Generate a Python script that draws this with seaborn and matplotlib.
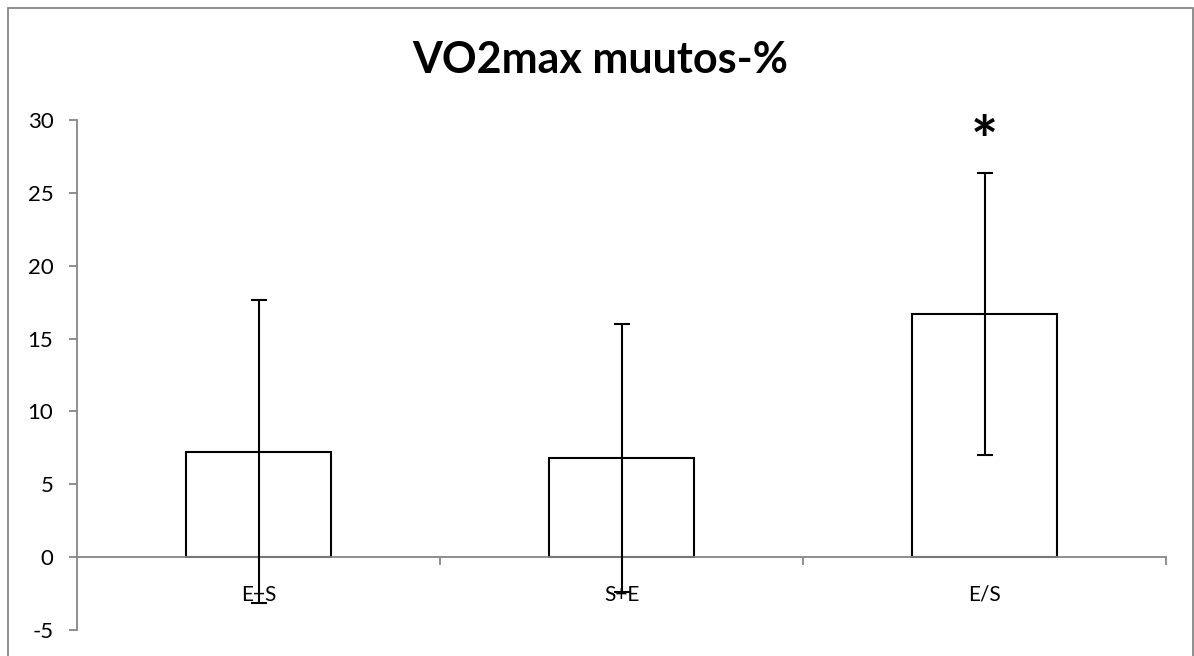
import numpy as np
import matplotlib
matplotlib.use("Agg")
import matplotlib.pyplot as plt
import pandas as pd
import seaborn as sns
from matplotlib.patches import Rectangle

# Data
groups = ["E+S", "S+E", "E/S"]
change_pct = [7.22, 6.80, 16.70]
sd_pct = [10.40, 9.17, 9.66]
y_ticks = [-5, 0, 5, 10, 15, 20, 25, 30]

df = pd.DataFrame({"group": groups, "change": change_pct, "sd": sd_pct})

sns.set_style("white")
plt.rcParams["font.family"] = ["Lato", "DejaVu Sans"]
plt.rcParams["text.color"] = "black"

gray = "#868686"

fig = plt.figure(figsize=(11.94, 6.56), dpi=100)
ax = fig.add_axes([77 / 1194, 1 - 630 / 656, (1166 - 77) / 1194, 510 / 656])

sns.barplot(data=df, x="group", y="change", order=groups, color="white",
            edgecolor="black", linewidth=1.5, width=0.4, errorbar=None, ax=ax)
ax.errorbar(range(len(groups)), df["change"], yerr=df["sd"], fmt="none",
            ecolor="black", elinewidth=1.5, capsize=6, capthick=1.5, zorder=5)

# significance marker
ax.text(2, 27.05, "*", ha="center", va="baseline", fontsize=46,
        fontweight="bold", color="black")

ax.set_xlim(-0.5, 2.5)
ax.set_ylim(-5, 30)
ax.set_yticks(y_ticks)
ax.set_yticklabels([str(v) for v in y_ticks])
ax.set_xlabel("")
ax.set_ylabel("")

for side in ["top", "right"]:
    ax.spines[side].set_visible(False)
ax.spines["bottom"].set_position(("data", 0))
for side in ["bottom", "left"]:
    ax.spines[side].set_color(gray)
    ax.spines[side].set_linewidth(1.3)

ax.tick_params(axis="y", direction="out", length=6, width=1.3, color=gray,
               labelsize=16, pad=11, left=True, labelcolor="black")
ax.set_xticks([0.5, 1.5, 2.5], minor=True)
ax.tick_params(axis="x", which="major", length=0, labelsize=15, pad=20,
               labelcolor="black")
ax.tick_params(axis="x", which="minor", direction="out", length=6, width=1.3,
               color=gray, bottom=True)

fig.text(600 / 1194, 1 - 73 / 656, "VO2max muutos-%", ha="center", va="baseline",
         fontsize=31, fontweight="bold")

# chart frame
fig.patches.append(Rectangle((8 / 1194, -0.01), (1193 - 8) / 1194, 1 - 8 / 656 + 0.01,
                             transform=fig.transFigure, fill=False,
                             edgecolor=gray, linewidth=1.3))

fig.savefig("out.png", dpi=100)
